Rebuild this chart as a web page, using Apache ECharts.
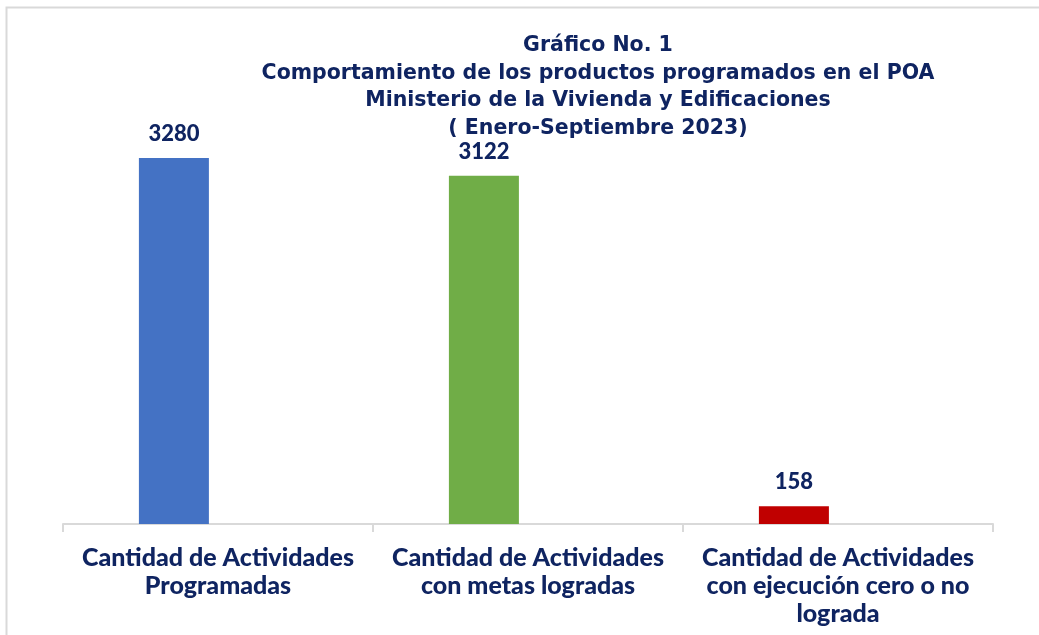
<!DOCTYPE html>
<html>
<head>
<meta charset="utf-8">
<script src="https://cdn.jsdelivr.net/npm/echarts@6/dist/echarts.min.js"></script>
<style>
  html, body { margin: 0; padding: 0; background: #fff; }
  #chart { width: 1039px; height: 635px; }
</style>
</head>
<body>
<div id="chart"></div>
<script>
const NAVY = "#0f2461";
const FONT = "Lato";
const TITLE_FONT = "DejaVu Sans";

const categories = [
  "Cantidad de Actividades\nProgramadas",
  "Cantidad de Actividades\ncon metas logradas",
  "Cantidad de Actividades\ncon ejecución cero o no\nlograda",
];
const values = [3280, 3122, 158];
const barColors = ["#4472c4", "#70ad47", "#c00000"];
const titleLines = [
  "Gráfico No. 1",
  "Comportamiento de los productos programados en el POA",
  "Ministerio de la Vivienda y Edificaciones",
  "( Enero-Septiembre 2023)",
];

const chart = echarts.init(document.getElementById("chart"));
chart.setOption({
  animation: false,
  graphic: [
    {
      type: "rect",
      shape: { x: 6.5, y: 7.5, width: 1100, height: 700 },
      style: { fill: "none", stroke: "#d9d9d9", lineWidth: 2 },
      silent: true,
    },
  ],
  title: {
    text: titleLines.join("\n"),
    left: 593,
    top: 27,
    textAlign: "center",
    textStyle: { fontFamily: TITLE_FONT, fontSize: 20.5, fontWeight: "bold", color: NAVY, lineHeight: 27.5 },
  },
  grid: { left: 63, right: 46, top: 133.5, bottom: 111, containLabel: false },
  xAxis: {
    type: "category",
    data: categories,
    axisLine: { lineStyle: { color: "#d9d9d9", width: 2 } },
    axisTick: { show: true, length: 8, lineStyle: { color: "#d9d9d9", width: 2 } },
    axisLabel: {
      margin: 20,
      fontFamily: FONT,
      fontSize: 25,
      fontWeight: 900,
      color: NAVY,
      lineHeight: 28,
      interval: 0,
    },
  },
  yAxis: {
    type: "value",
    min: 0,
    max: 3500,
    show: false,
    splitLine: { show: false },
  },
  series: [
    {
      type: "bar",
      barWidth: 70,
      barGap: "26%",
      data: values.map((v, i) => ({ value: v, itemStyle: { color: barColors[i] } })),
      label: {
        show: true,
        position: "top",
        distance: 13,
        fontFamily: FONT,
        fontSize: 22,
        fontWeight: 900,
        color: NAVY,
      },
    },
    {
      // empty second slot, pushes the bars left of centre like the original
      type: "bar",
      barWidth: 70,
      data: values.map(() => null),
    },
  ],
});
</script>
</body>
</html>
